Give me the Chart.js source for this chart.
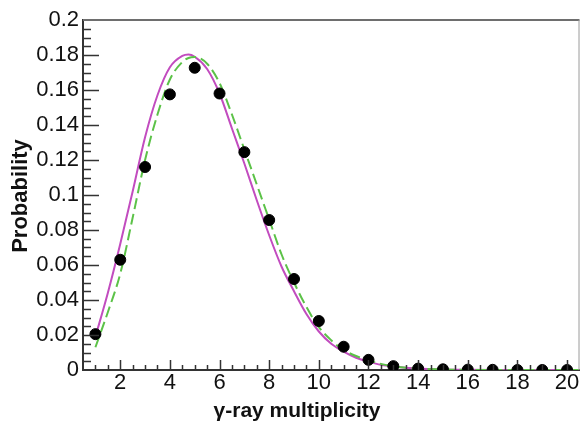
<!DOCTYPE html>
<html>
<head>
<meta charset="utf-8">
<script src="https://cdn.jsdelivr.net/npm/chart.js@4.4.0/dist/chart.umd.min.js"></script>
<style>
    html, body { margin: 0; padding: 0; background: #ffffff; }
    #wrap { width: 586px; height: 421px; }
</style>
</head>
<body>
<div id="wrap"><canvas id="multChart" width="586" height="421"></canvas></div>
<script>
// measured multiplicity (black dots)
const multValues = [1, 2, 3, 4, 5, 6, 7, 8, 9, 10, 11, 12, 13, 14, 15, 16, 17, 18, 19, 20];
const measuredProb = [0.0205, 0.063, 0.116, 0.1575, 0.1727, 0.158, 0.1245, 0.0857, 0.052, 0.028,
    0.0133, 0.0058, 0.0022, 0.0008, 0.0004, 0.0002, 0.0001, 0, 0, 0];

// calculated curves
const curveX = [1, 1.5, 2, 2.5, 3, 3.5, 4, 4.5, 4.75, 5, 5.5, 6, 6.5, 7, 7.5, 8, 8.5, 9, 9.5, 10,
    10.5, 11, 11.5, 12, 12.5, 13, 14, 15, 16, 17, 18, 19, 20, 20.5];
const magentaProb = [0.019, 0.044, 0.072, 0.102, 0.133, 0.157, 0.173, 0.1795, 0.1803, 0.179, 0.172, 0.158,
    0.138, 0.118, 0.097, 0.077, 0.059, 0.045, 0.032, 0.022, 0.015, 0.0105, 0.007, 0.0048, 0.003, 0.002,
    0.0008, 0.0003, 0.0001, 0, 0, 0, 0, 0];
const greenProb = [0.013, 0.033, 0.055, 0.087, 0.120, 0.146, 0.166, 0.176, 0.1783, 0.1788, 0.175, 0.164,
    0.146, 0.126, 0.106, 0.086, 0.066, 0.050, 0.036, 0.0245, 0.017, 0.0114, 0.008, 0.0055, 0.0035, 0.002,
    0.0009, 0.0003, 0.0001, 0, 0, 0, 0, 0];

// axis ticks
const xTicks = [2, 4, 6, 8, 10, 12, 14, 16, 18, 20];
const xTickLabels = ["2", "4", "6", "8", "10", "12", "14", "16", "18", "20"];
const yTicks = [0, 0.02, 0.04, 0.06, 0.08, 0.1, 0.12, 0.14, 0.16, 0.18, 0.2];
const yTickLabels = ["0", "0.02", "0.04", "0.06", "0.08", "0.1", "0.12", "0.14", "0.16", "0.18", "0.2"];

const xTitle = "\u03b3-ray multiplicity";
const yTitle = "Probability";

function toPoints(xs, ys) {
    return xs.map((x, i) => ({ x: x, y: ys[i] }));
}

// ROOT-like frame: inward ticks, top/right border and the axis titles
const framePlugin = {
    id: "frame",
    afterDatasetsDraw(chart) {
        const ctx = chart.ctx;
        const area = chart.chartArea;
        const xs = chart.scales.x;
        const ys = chart.scales.y;
        ctx.save();

        // top and right border
        ctx.strokeStyle = "#6e6e6e";
        ctx.lineWidth = 2;
        ctx.beginPath();
        ctx.moveTo(area.left, area.top);
        ctx.lineTo(area.right, area.top);
        ctx.stroke();
        ctx.strokeStyle = "#9a9a9a";
        ctx.lineWidth = 1;
        ctx.beginPath();
        ctx.moveTo(area.right - 0.5, area.top);
        ctx.lineTo(area.right - 0.5, area.bottom);
        ctx.stroke();

        // x ticks (major every 2, minor every 0.5)
        ctx.strokeStyle = "#333333";
        ctx.lineWidth = 1.5;
        ctx.beginPath();
        for (let v = 1; v <= 20; v += 0.5) {
            const px = Math.round(xs.getPixelForValue(v)) + 0.5;
            const len = xTicks.includes(v) ? 10 : 5;
            ctx.moveTo(px, area.bottom);
            ctx.lineTo(px, area.bottom - len);
        }
        // y ticks (major every 0.02, minor every 0.005)
        for (let i = 1; i < 40; i++) {
            const v = i * 0.005;
            const py = Math.round(ys.getPixelForValue(v)) + 0.5;
            const len = i % 4 === 0 ? 16 : 8;
            ctx.moveTo(area.left, py);
            ctx.lineTo(area.left + len, py);
        }
        ctx.stroke();

        // axis titles
        ctx.fillStyle = "#111111";
        ctx.font = "bold 21px 'Liberation Sans', Arial, sans-serif";
        ctx.textAlign = "center";
        ctx.textBaseline = "alphabetic";
        ctx.fillText(xTitle, 297, 417);

        ctx.translate(27, 196);
        ctx.rotate(-Math.PI / 2);
        ctx.font = "bold 22px 'Liberation Sans', Arial, sans-serif";
        ctx.fillText(yTitle, 0, 0);
        ctx.restore();
    }
};

function renderChart() {
    const ctx = document.getElementById("multChart").getContext("2d");
    const tickFont = { family: "'Liberation Sans', Arial, sans-serif", size: 22 };

    new Chart(ctx, {
        type: "scatter",
        data: {
            datasets: [
                {
                    label: "data",
                    data: toPoints(multValues, measuredProb),
                    backgroundColor: "#000000",
                    borderColor: "#000000",
                    pointRadius: 5.5,
                    pointHoverRadius: 5.5,
                    showLine: false,
                    order: 0
                },
                {
                    label: "calc 1",
                    data: toPoints(curveX, magentaProb),
                    borderColor: "#c24cbf",
                    borderWidth: 2,
                    pointRadius: 0,
                    showLine: true,
                    cubicInterpolationMode: "monotone",
                    order: 2
                },
                {
                    label: "calc 2",
                    data: toPoints(curveX, greenProb),
                    borderColor: "#5cc248",
                    borderWidth: 2,
                    borderDash: [11, 5],
                    pointRadius: 0,
                    showLine: true,
                    cubicInterpolationMode: "monotone",
                    order: 1
                }
            ]
        },
        options: {
            responsive: false,
            animation: false,
            events: [],
            layout: { padding: { top: 20, right: 1, left: 0, bottom: 0 } },
            plugins: {
                legend: { display: false },
                tooltip: { enabled: false }
            },
            scales: {
                x: {
                    type: "linear",
                    min: 0.5,
                    max: 20.5,
                    grid: { display: false, drawTicks: false },
                    border: { display: true, color: "#333333", width: 2 },
                    afterBuildTicks: scale => { scale.ticks = xTicks.map(v => ({ value: v })); },
                    afterFit: scale => { scale.height = 51; },
                    ticks: {
                        padding: 0,
                        color: "#111111",
                        font: tickFont,
                        maxRotation: 0,
                        autoSkip: false,
                        callback: (value, index) => xTickLabels[index]
                    }
                },
                y: {
                    type: "linear",
                    min: 0,
                    max: 0.2,
                    grid: { display: false, drawTicks: false },
                    border: { display: true, color: "#333333", width: 2 },
                    afterBuildTicks: scale => { scale.ticks = yTicks.map(v => ({ value: v })); },
                    afterFit: scale => { scale.width = 83; },
                    ticks: {
                        padding: 4,
                        color: "#111111",
                        font: tickFont,
                        autoSkip: false,
                        callback: (value, index) => yTickLabels[index]
                    }
                }
            }
        },
        plugins: [framePlugin]
    });
}

renderChart();
</script>
</body>
</html>
